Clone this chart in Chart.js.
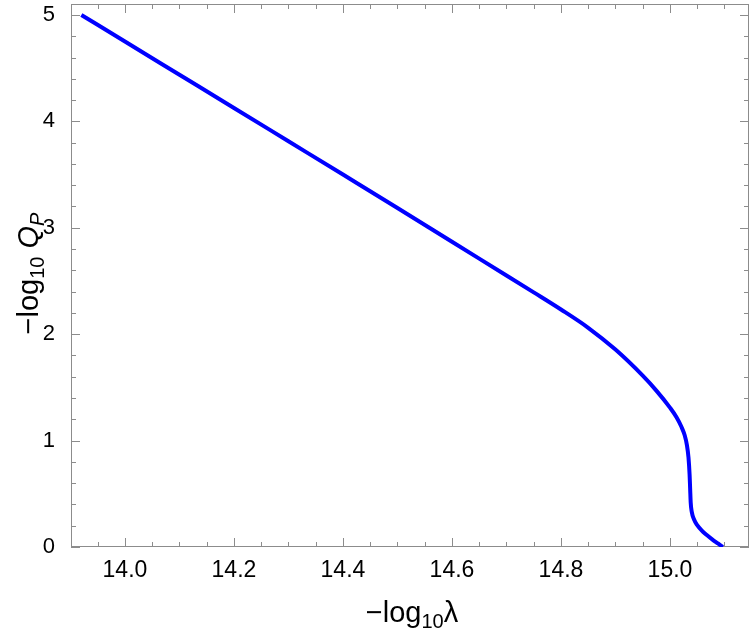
<!DOCTYPE html>
<html>
<head>
<meta charset="utf-8">
<script src="https://cdn.jsdelivr.net/npm/chart.js@4"></script>
<style>
  html, body { margin: 0; padding: 0; background: #fff; }
  #wrap { width: 750px; height: 638px; }
</style>
</head>
<body>
<div id="wrap"><canvas id="qpChart"></canvas></div>
<script>
// data
const xVals = [13.92, 14.0, 14.1, 14.2, 14.3, 14.4, 14.5, 14.6, 14.7, 14.75, 14.8, 14.85, 14.9, 14.95, 14.975, 15.0, 15.012, 15.021, 15.027, 15.031, 15.034, 15.036, 15.037, 15.038, 15.04, 15.044, 15.05, 15.058, 15.067, 15.078, 15.088, 15.097];
const yVals = [5.0, 4.75, 4.438, 4.126, 3.813, 3.50, 3.186, 2.868, 2.552, 2.393, 2.232, 2.06, 1.855, 1.61, 1.47, 1.31, 1.22, 1.13, 1.05, 0.96, 0.84, 0.68, 0.55, 0.42, 0.33, 0.26, 0.205, 0.157, 0.115, 0.07, 0.033, 0.0];
const xTicks = [14.0, 14.2, 14.4, 14.6, 14.8, 15.0];
const yTicks = [0, 1, 2, 3, 4, 5];

const FONT = "'Liberation Sans', Arial, Helvetica, sans-serif";
const FRAME = '#8c8c8c';

const points = xVals.map((x, i) => ({ x: x, y: yVals[i] }));

// frame with inward major/minor ticks on all four sides
const framePlugin = {
  id: 'frame',
  beforeDatasetsDraw(chart) {
    const { ctx, chartArea: a, scales } = chart;
    const xs = scales.x, ys = scales.y;
    ctx.save();
    ctx.strokeStyle = FRAME;
    ctx.lineWidth = 1;
    ctx.strokeRect(a.left + 0.5, a.top + 0.5, a.right - a.left - 1, a.bottom - a.top - 1);

    const tickX = (v, len) => {
      const px = Math.round(xs.getPixelForValue(v)) + 0.5;
      ctx.beginPath();
      ctx.moveTo(px, a.bottom); ctx.lineTo(px, a.bottom - len);
      ctx.moveTo(px, a.top); ctx.lineTo(px, a.top + len);
      ctx.stroke();
    };
    const tickY = (v, len) => {
      const py = Math.round(ys.getPixelForValue(v)) + 0.5;
      ctx.beginPath();
      ctx.moveTo(a.left, py); ctx.lineTo(a.left + len, py);
      ctx.moveTo(a.right, py); ctx.lineTo(a.right - len, py);
      ctx.stroke();
    };
    for (let k = 0; ; k++) {
      const v = 13.95 + k * 0.05;
      if (v > xs.max) break;
      const major = xTicks.some(t => Math.abs(t - v) < 1e-6);
      tickX(v, major ? 9 : 5);
    }
    for (let k = 0; ; k++) {
      const v = k * 0.2;
      if (v > ys.max) break;
      const major = Math.abs(v - Math.round(v)) < 1e-6;
      tickY(v, major ? 9 : 5);
    }
    ctx.restore();
  }
};

// axis titles with subscripts
function drawParts(ctx, parts, x, y, align) {
  let total = 0;
  parts.forEach(p => { ctx.font = p.font; total += ctx.measureText(p.t).width; });
  let cx = align === 'center' ? x - total / 2 : x;
  parts.forEach(p => {
    ctx.font = p.font;
    ctx.fillText(p.t, cx, y + (p.dy || 0));
    cx += ctx.measureText(p.t).width;
  });
}

const titlePlugin = {
  id: 'titles',
  afterDraw(chart) {
    const { ctx, chartArea: a } = chart;
    const main = '29px ' + FONT, sub = '20px ' + FONT;
    const mainI = 'italic 29px ' + FONT, subI = 'italic 20px ' + FONT;
    ctx.save();
    ctx.fillStyle = '#000';
    ctx.textBaseline = 'alphabetic';
    ctx.textAlign = 'left';
    drawParts(ctx, [
      { t: '\u2212log', font: main },
      { t: '10', font: sub, dy: 6 },
      { t: '\u03bb', font: main }
    ], (a.left + a.right) / 2 + 2, 622, 'center');

    ctx.translate(38, (a.top + a.bottom) / 2 - 2);
    ctx.rotate(-Math.PI / 2);
    drawParts(ctx, [
      { t: '\u2212log', font: main },
      { t: '10', font: sub, dy: 6 },
      { t: ' ', font: main },
      { t: 'Q', font: mainI },
      { t: 'P', font: subI, dy: 6 }
    ], 0, 0, 'center');
    ctx.restore();
  }
};

new Chart(document.getElementById('qpChart'), {
  type: 'line',
  data: {
    datasets: [{
      data: points,
      borderColor: '#0000ff',
      borderWidth: 4,
      pointRadius: 0,
      fill: false,
      cubicInterpolationMode: 'monotone'
    }]
  },
  options: {
    responsive: true,
    maintainAspectRatio: false,
    animation: false,
    layout: { padding: { top: 4, right: 1, left: 0, bottom: 0 } },
    plugins: {
      legend: { display: false },
      tooltip: { enabled: false }
    },
    scales: {
      x: {
        type: 'linear',
        min: 13.901,
        max: 15.145,
        grid: { display: false },
        border: { display: false },
        afterFit(scale) { scale.height = 91; scale.paddingLeft = 0; scale.paddingRight = 0; },
        afterBuildTicks(scale) { scale.ticks = xTicks.map(v => ({ value: v })); },
        ticks: {
          padding: 2,
          color: '#000',
          maxRotation: 0,
          autoSkip: false,
          font: { size: 23, family: FONT },
          callback: v => v.toFixed(1)
        }
      },
      y: {
        type: 'linear',
        min: 0,
        max: 5.103,
        grid: { display: false },
        border: { display: false },
        afterFit(scale) { scale.width = 71; scale.paddingTop = 0; scale.paddingBottom = 0; },
        afterBuildTicks(scale) { scale.ticks = yTicks.map(v => ({ value: v })); },
        ticks: {
          padding: 8,
          color: '#000',
          autoSkip: false,
          font: { size: 22, family: FONT },
          callback: v => String(v)
        }
      }
    }
  },
  plugins: [framePlugin, titlePlugin]
});
</script>
</body>
</html>
